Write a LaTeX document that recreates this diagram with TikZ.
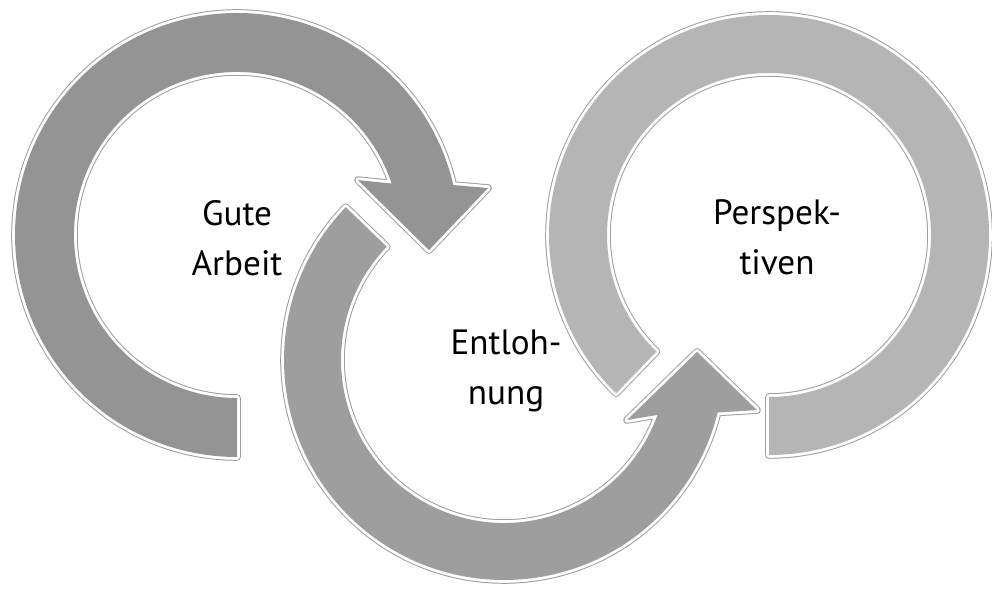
\documentclass[tikz,border=0pt]{standalone}
\usepackage{fontspec}
\setmainfont{PT Sans}
\definecolor{darkring}{gray}{0.58}
\definecolor{midring}{gray}{0.62}
\definecolor{lightring}{gray}{0.71}
\definecolor{rimline}{gray}{0.62}
\tikzset{
	ring/.style={fill=#1,
		preaction={draw=rimline, line width=5.4pt, line join=round},
		preaction={draw=white, line width=4pt, line join=round}},
	word/.style={align=center, inner sep=0pt, font=\fontsize{25}{35.5}\selectfont}
}
\begin{document}
\begin{tikzpicture}[x=0.025cm, y=0.025cm]
	\useasboundingbox (0,0) rectangle (992,589);
	
	% left ring, clockwise with head
	\begin{scope}[shift={(237,354)}]
		\fill [ring=darkring] (270:163) -- (270:222) arc[start angle=270, end angle=13, radius=222]
			-- (10.6:255.4) -- (-4.5:192.6) -- (24.4:132.9) -- (18.4:163)
			arc[start angle=18.4, end angle=270, radius=163] -- cycle;
	\end{scope}
	
	% middle ring, counter-clockwise with head
	\begin{scope}[shift={(504,229)}]
		\fill [ring=midring] (136:163) -- (136:220) arc[start angle=136, end angle=346.2, radius=220]
			-- (-11.2:257.9) -- (2.4:193.2) -- (-26:136.9) -- (-19.7:163)
			arc[start angle=340.3, end angle=136, radius=163] -- cycle;
	\end{scope}
	
	% right ring, open
	\begin{scope}[shift={(769,354)}]
		\fill [ring=lightring] (-90:162) -- (-90:220) arc[start angle=-90, end angle=226, radius=220]
			-- (226:162) arc[start angle=226, end angle=-90, radius=162] -- cycle;
	\end{scope}
	
	\node (arbeit) at (237,351) [word] {Gute\\Arbeit};
	\node (lohn) at (506,218) [word] {Entloh-\\nung};
	\node (persp) at (777,352) [word] {Perspek-\\tiven};
\end{tikzpicture}
\end{document}
